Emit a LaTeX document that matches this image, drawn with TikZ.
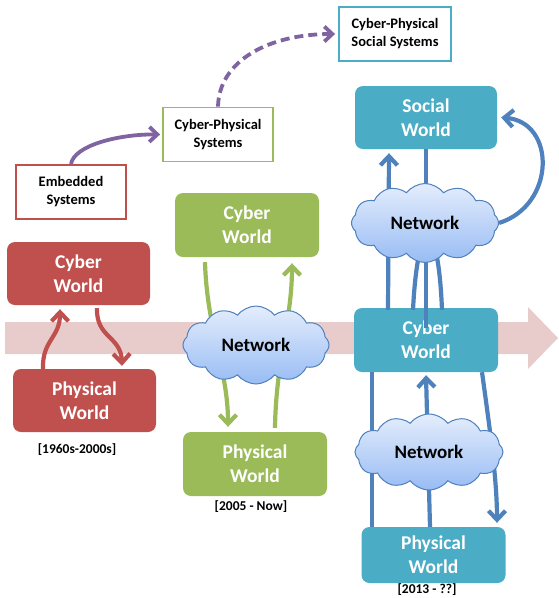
\documentclass[tikz,border=0pt]{standalone}
\usepackage{fontspec}
\setmainfont{Carlito}
\usetikzlibrary{shapes.symbols,arrows.meta,calc}

\definecolor{redbox}{RGB}{192,80,77}
\definecolor{greenbox}{RGB}{155,187,89}
\definecolor{tealbox}{RGB}{75,172,198}
\definecolor{bluearrow}{RGB}{79,129,189}
\definecolor{purplearrow}{RGB}{128,100,162}
\definecolor{bandpink}{RGB}{232,204,204}
\definecolor{cloudtop}{RGB}{228,237,252}
\definecolor{cloudbottom}{RGB}{152,188,244}

\tikzset{
  world/.style={rounded corners=8pt, minimum width=143pt, minimum height=63pt,
    inner sep=0pt, text=white, align=center,
    font=\fontsize{19.5}{24}\selectfont\bfseries},
  sysbox/.style={draw, fill=white, line width=1.8pt, minimum width=110pt,
    minimum height=54pt, inner sep=0pt, align=center,
    font=\fontsize{14.5}{18}\selectfont\bfseries},
  era/.style={inner sep=1pt, font=\fontsize{13.5}{16}\selectfont\bfseries},
  net/.style={cloud, cloud puffs=12, cloud puff arc=105, aspect=2, draw=bluearrow,
    line width=1pt, top color=cloudtop, bottom color=cloudbottom, inner sep=0pt,
    minimum width=146pt, minimum height=78pt,
    font=\fontsize{19}{22}\selectfont\bfseries},
  barb/.style={-{Straight Barb[length=9pt,width=17pt]}},
  redflow/.style={barb, draw=redbox, line width=4.2pt},
  greenflow/.style={barb, draw=greenbox, line width=4.2pt},
  blueline/.style={draw=bluearrow, line width=4.2pt},
  blueflow/.style={barb, blueline},
  evolve/.style={-{Straight Barb[length=8pt,width=15pt]}, draw=purplearrow, line width=3.8pt}
}

\begin{document}
\begin{tikzpicture}[x=1pt,y=-1pt]
\useasboundingbox (0,0) rectangle (558,598);

% time line in the background
\fill[bandpink] (5,322) -- (528,322) -- (528,307) -- (558,338) -- (528,369)
  -- (528,354) -- (5,354) -- cycle;

% evolution of the system concepts
\node[sysbox, draw=redbox] (emb) at (71,192) {Embedded\\Systems};
\node[sysbox, draw=greenbox] (cps) at (218,134.5) {Cyber-Physical\\Systems};
\node[sysbox, draw=tealbox, minimum width=112pt] (cpss) at (395,34) {Cyber-Physical\\Social Systems};

\draw[evolve] (emb.north) .. controls (74,145) and (120,134) .. ([xshift=-2pt]cps.west);
\draw[evolve, dash pattern=on 9pt off 5pt] (cps.north) .. controls (219,60) and (270,34) .. ([xshift=-3pt]cpss.west);

% embedded systems
\node[world, fill=redbox] (rcyber) at (78.5,273.5) {Cyber\\World};
\node[world, fill=redbox] (rphys) at (84.5,400.5) {Physical\\World};
\node[era] (rera) at (77,450) {[1960s-2000s]};

\draw[redflow] ([xshift=-41.5pt]rphys.north) .. controls (42,340) and (60,338)
  .. ([xshift=-18.5pt,yshift=-4pt]rcyber.south);
\draw[redflow] ([xshift=18.5pt,yshift=-3pt]rcyber.south) .. controls (96,338) and (121,336)
  .. ([xshift=37.5pt,yshift=3pt]rphys.north);

% cyber-physical systems
\node[world, fill=greenbox, minimum width=144pt, minimum height=64pt] (gcyber) at (247,225) {Cyber\\World};
\node[world, fill=greenbox, minimum width=144pt, minimum height=64pt] (gphys) at (255,464) {Physical\\World};
\node[era] (gera) at (251,507) {[2005 - Now]};

\draw[greenflow] ([xshift=-42pt,yshift=-5pt]gcyber.south) .. controls (207,330) and (228,370)
  .. ([xshift=-27pt,yshift=5pt]gphys.north);
\draw[greenflow] ([xshift=20pt,yshift=4pt]gphys.north) .. controls (276,360) and (292,320)
  .. ([xshift=45pt,yshift=-6pt]gcyber.south);
\node[net] (gnet) at (256,345) {Network};

% cyber-physical social systems
\node[world, fill=tealbox, minimum width=142pt] (tsocial) at (426,117.5) {Social\\World};
\node[world, fill=tealbox, minimum width=144pt, minimum height=64pt] (tcyber) at (426,340) {Cyber\\World};
\node[world, fill=tealbox, minimum width=144pt, minimum height=56pt] (tphys) at (433.5,555) {Physical\\World};
\node[era] (tera) at (427,590) {[2013 - ??]};

\coordinate (up1) at ([yshift=-2pt]tcyber.north);
\draw[blueflow] ([xshift=-38pt]up1) -- ([xshift=-37pt,yshift=-4pt]tsocial.south);
\draw[blueline] (tsocial.south) -- ([yshift=-20pt]tsocial.south |- tcyber.north);
\draw[blueline] ([xshift=-13pt]up1) .. controls (418,212) and (438,212) .. ([xshift=16pt]up1);
\node[net, minimum width=147pt, minimum height=79pt] (tnet1) at (425,223) {Network};
\draw[blueflow] (tnet1.east) .. controls (556,205) and (556,122) .. ([xshift=4pt]tsocial.east);

\draw[blueline] ([xshift=-54pt]tcyber.south) -- ([xshift=-61.5pt]tphys.north);
\draw[blueflow] ([xshift=-3.5pt]tphys.north) -- ([yshift=-3pt]tcyber.south);
\draw[blueflow] ([xshift=56pt]tcyber.south) .. controls (490,430) and (497,480)
  .. ([xshift=63.5pt,yshift=4pt]tphys.north);
\node[net, minimum width=148pt, minimum height=76pt] (tnet2) at (429,452) {Network};
\end{tikzpicture}
\end{document}
